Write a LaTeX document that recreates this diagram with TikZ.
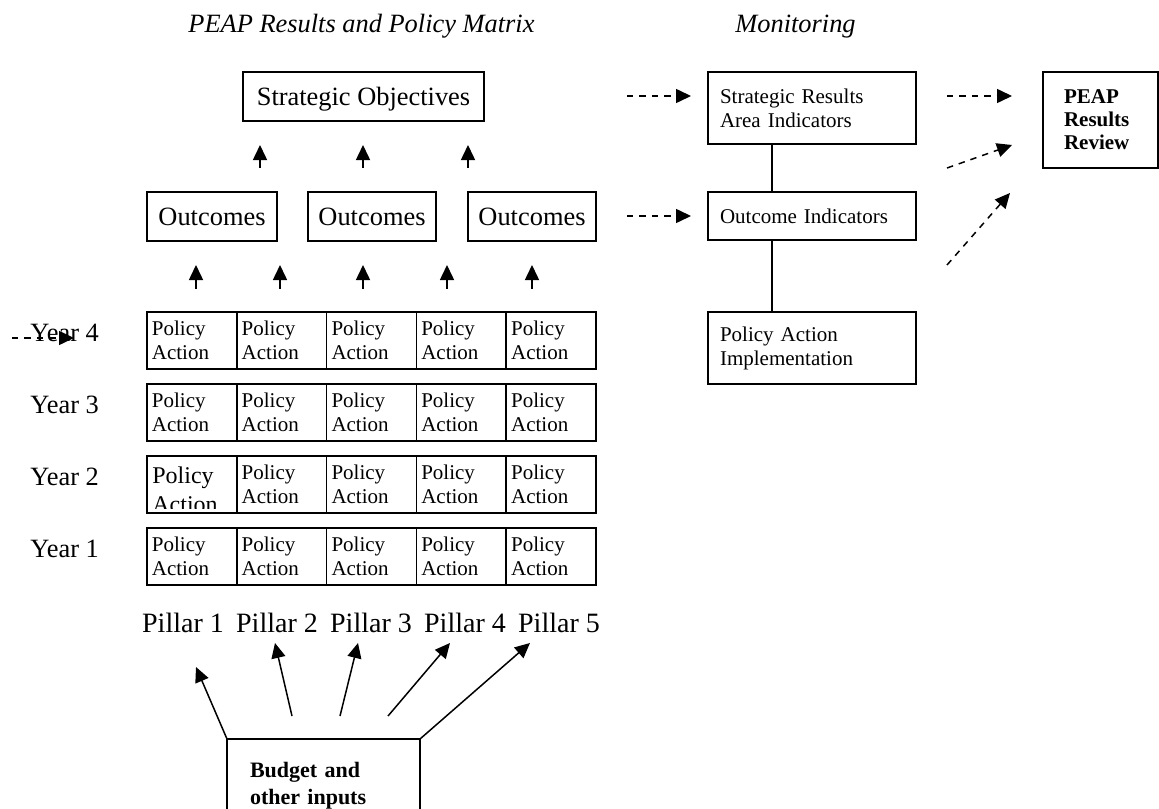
\documentclass[tikz,border=0pt]{standalone}
\usepackage{fontspec}
\setmainfont{Liberation Serif}
\usetikzlibrary{arrows.meta,calc}
\newcommand\fbig{\fontsize{13.2}{15.8}\selectfont}
\newcommand\fpil{\fontsize{14}{16.8}\selectfont}
\newcommand\fsmall{\fontsize{10.5}{12}\selectfont}

\begin{document}
\begin{tikzpicture}[x=0.5pt,y=-0.5pt,
  box/.style={draw, line width=0.75pt, inner sep=0pt, outer sep=0pt},
  big/.style={box, font=\fbig, minimum height=24.5pt, text depth=0pt},
  pa/.style={box, font=\fsmall, align=left, text width=40pt, minimum width=44.9pt, minimum height=28.5pt},
  mon/.style={box, font=\fsmall, align=left, text width=92pt, minimum width=104pt},
  up/.style={-{Triangle[length=7.5pt,width=7pt]}, line width=0.75pt},
  dsh/.style={up, dash pattern=on 3.2pt off 3pt},
  lbl/.style={font=\fbig, anchor=base west, inner sep=0pt}]
\useasboundingbox (0,0) rectangle (1159,808);

% headings
\node[lbl, font=\fbig\itshape] (hdmat) at (188,33) {PEAP Results and Policy Matrix};
\node[lbl, font=\fbig\itshape] (hdmon) at (735,33) {Monitoring};

% results chain
\node[big, minimum width=120.5pt] (so) at (363.5,96.5) {Strategic Objectives};
\node[big, minimum width=65pt] (oc1) at (212,216.5) {Outcomes};
\node[big, minimum width=64pt] (oc2) at (372,216.5) {Outcomes};
\node[big, minimum width=64pt] (oc3) at (532,216.5) {Outcomes};
\foreach \x [count=\i] in {260,363,468}{
  \coordinate (ua\i) at (\x,168);
  \coordinate (ub\i) at (\x,145);
  \draw[up] (ua\i) -- (ub\i);
}
\foreach \x [count=\i] in {196,280,363,447,532}{
  \coordinate (la\i) at (\x,289);
  \coordinate (lb\i) at (\x,265);
  \draw[up] (la\i) -- (lb\i);
}

% policy matrix
\foreach \r/\y in {4/340.5,3/412.5,2/484.5,1/556.5}{
  \node[lbl] (yr\r) at (30,\y+0.5) {Year \r};
  \foreach \c in {1,...,5}{
    \ifnum\r\c=21 \def\txt{}\else\def\txt{Policy\\Action}\fi
    \node[pa] (p\r\c) at ({147+89.8*(\c-0.5)},\y) {\txt};
  }
}
\begin{scope}
  \clip ([shift={(1pt,-1pt)}]p21.north west) rectangle ([shift={(-1pt,2.5pt)}]p21.south east);
  \node[font=\fontsize{12}{14.5}\selectfont, align=left, anchor=north west, inner sep=0pt] (p21t) at (152,466) {Policy\\Action};
\end{scope}
\coordinate (yd1) at (12,338);
\coordinate (yd2) at (74,338);
\draw[dsh] (yd1) -- (yd2);

\foreach \x [count=\i] in {183,277,371,465,559}
  \node[font=\fpil, anchor=base, inner sep=0pt] (pil\i) at (\x,632) {Pillar \i};

% inputs
\node[box, font=\fontsize{11}{13.5}\selectfont\bfseries, align=left, text width=73.5pt,
  minimum width=96.5pt, minimum height=46.5pt] (bud) at (323.5,785.5) {Budget and\\other inputs};
\coordinate (t1) at (196,667);
\coordinate (t2) at (275,643);
\coordinate (t3) at (358,643);
\coordinate (t4) at (450,643);
\coordinate (t5) at (530,643);
\coordinate (b2) at (292,716);
\coordinate (b3) at (340,716);
\coordinate (b4) at (388,716);
\draw[up] (bud.north west) -- (t1);
\draw[up] (b2) -- (t2);
\draw[up] (b3) -- (t3);
\draw[up] (b4) -- (t4);
\draw[up] (bud.north east) -- (t5);

% monitoring
\node[mon, minimum height=36pt] (sra) at (812,108) {Strategic Results\\Area Indicators};
\node[mon, minimum height=24pt] (oi) at (812,216) {Outcome Indicators};
\node[mon, minimum height=36pt] (pai) at (812,348) {Policy Action\\Implementation};
\draw[line width=0.75pt] ([xshift=32pt]sra.south west) -- ([xshift=32pt]oi.north west);
\draw[line width=0.75pt] ([xshift=32pt]oi.south west) -- ([xshift=32pt]pai.north west);
\node[box, font=\fontsize{10.5}{11.5}\selectfont\bfseries, align=left, text width=36.5pt,
  minimum width=57.5pt, minimum height=48pt] (rev) at (1100.5,120) {PEAP\\Results\\Review};

\coordinate (so1) at (627,96);
\coordinate (so2) at (691,96);
\coordinate (oc4) at (627,216);
\coordinate (oc5) at (691,216);
\draw[dsh] (so1) -- (so2);
\draw[dsh] (oc4) -- (oc5);
\coordinate (rv1) at (947,96);
\coordinate (rv2) at (1012,96);
\coordinate (rv3) at (947,168);
\coordinate (rv4) at (1012,145);
\coordinate (rv5) at (947,265);
\coordinate (rv6) at (1010,193);
\draw[dsh] (rv1) -- (rv2);
\draw[dsh] (rv3) -- (rv4);
\draw[dsh] (rv5) -- (rv6);
\end{tikzpicture}
\end{document}
